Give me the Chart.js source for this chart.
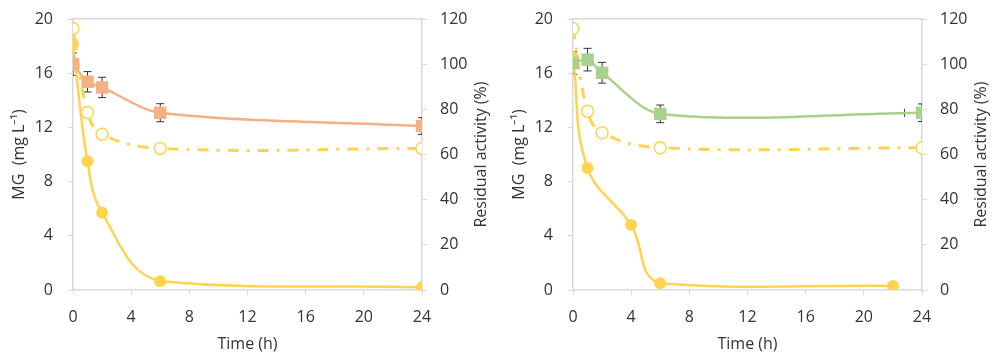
<!DOCTYPE html>
<html>
<head>
<meta charset="utf-8">
<script src="https://cdn.jsdelivr.net/npm/chart.js@4/dist/chart.umd.min.js"></script>
<style>
  body { margin: 0; background: #fff; }
  #wrap { position: relative; width: 992px; height: 354px; }
  .panel { position: absolute; top: 0; height: 354px; }
</style>
</head>
<body>
<div id="wrap">
  <div class="panel" style="left:0;width:500px"><canvas id="leftChart"></canvas></div>
  <div class="panel" style="left:500px;width:492px"><canvas id="rightChart"></canvas></div>
</div>
<script>
// tick labels
const timeTicks = [0, 4, 8, 12, 16, 20, 24];
const mgTicks = [0, 4, 8, 12, 16, 20];
const activityTicks = [0, 20, 40, 60, 80, 100, 120];

// left panel
const leftTime = [0, 1, 2, 6, 24];
const leftMG = [18.2, 9.5, 5.7, 0.65, 0.2];
const leftControl = [19.3, 13.1, 11.5, 10.45, 10.45];
const leftActivity = [100, 92.2, 89.7, 78.5, 72.6];
const leftActivityErr = [5, 4.5, 4.5, 4, 3.7];

// right panel
const rightTime = [0, 1, 2, 6, 24];
const rightMGTime = [0, 1, 4, 6, 22];
const rightMG = [17.2, 9.0, 4.8, 0.5, 0.3];
const rightControl = [19.3, 13.2, 11.6, 10.5, 10.5];
const rightActivity = [100.5, 102, 96.2, 78, 78.5];
const rightActivityErr = [5, 5, 4.6, 3.9, 3.9];
const rightActivityErrX = [0, 0, 0, 0, 1.2];

const YELLOW = "#FFD34E";
const ORANGE = "#F4B183";
const GREEN = "#A9D18E";
const AXIS = "#D9D9D9";
const TEXT = "#333333";
const FONT = "'Open Sans'";

Chart.defaults.font.family = FONT;
Chart.defaults.color = TEXT;

const pts = (xs, ys) => xs.map((x, i) => ({ x: x, y: ys[i] }));

// error bars drawn under the markers
const errorBars = {
  id: "errorBars",
  beforeDatasetsDraw(chart) {
    const ctx = chart.ctx;
    const area = chart.chartArea;
    ctx.save();
    ctx.beginPath();
    ctx.rect(area.left, area.top, area.right - area.left, area.bottom - area.top);
    ctx.clip();
    ctx.strokeStyle = "#333";
    ctx.lineWidth = 1;
    chart.data.datasets.forEach((ds) => {
      if (!ds.errY && !ds.errX) return;
      const xs = chart.scales[ds.xAxisID || "x"];
      const ys = chart.scales[ds.yAxisID];
      ds.data.forEach((p, i) => {
        const px = xs.getPixelForValue(p.x);
        const py = ys.getPixelForValue(p.y);
        const cap = 4;
        if (ds.errY && ds.errY[i]) {
          const t = ys.getPixelForValue(p.y + ds.errY[i]);
          const b = ys.getPixelForValue(p.y - ds.errY[i]);
          ctx.beginPath();
          ctx.moveTo(px, t); ctx.lineTo(px, b);
          ctx.moveTo(px - cap, t); ctx.lineTo(px + cap, t);
          ctx.moveTo(px - cap, b); ctx.lineTo(px + cap, b);
          ctx.stroke();
        }
        if (ds.errX && ds.errX[i]) {
          const l = xs.getPixelForValue(p.x - ds.errX[i]);
          const r = xs.getPixelForValue(p.x + ds.errX[i]);
          ctx.beginPath();
          ctx.moveTo(l, py); ctx.lineTo(r, py);
          ctx.moveTo(l, py - cap); ctx.lineTo(l, py + cap);
          ctx.moveTo(r, py - cap); ctx.lineTo(r, py + cap);
          ctx.stroke();
        }
      });
    });
    ctx.restore();
  }
};

// right axis title reads bottom-to-top, like the left one
const rightTitle = {
  id: "rightTitle",
  afterDraw(chart, args, opts) {
    const s = chart.scales.y1;
    const ctx = chart.ctx;
    ctx.save();
    ctx.translate(s.right - opts.offset, (s.top + s.bottom) / 2);
    ctx.rotate(-Math.PI / 2);
    ctx.font = "16px " + FONT;
    ctx.fillStyle = TEXT;
    ctx.textAlign = "center";
    ctx.textBaseline = "middle";
    ctx.fillText(opts.text, 0, 0);
    ctx.restore();
  }
};

function tickList(values) {
  return (scale) => { scale.ticks = values.map(v => ({ value: v })); };
}

function makePanel(id, p) {
  new Chart(document.getElementById(id), {
    type: "line",
    data: {
      datasets: [
        {
          label: "Residual activity",
          data: pts(p.time, p.activity),
          errY: p.activityErr,
          errX: p.activityErrX,
          yAxisID: "y1",
          borderColor: p.color,
          backgroundColor: p.color,
          borderWidth: 2.5,
          pointStyle: "rect",
          pointRadius: 8.8,
          pointBorderWidth: 0,
          tension: 0.3
        },
        {
          label: "MG",
          data: pts(p.mgTime, p.mg),
          yAxisID: "y",
          borderColor: YELLOW,
          backgroundColor: YELLOW,
          borderWidth: 2.5,
          pointRadius: 6,
          pointBorderWidth: 0,
          tension: 0.4
        },
        {
          label: "MG control",
          data: pts(p.time, p.control),
          yAxisID: "y",
          borderColor: YELLOW,
          backgroundColor: "#fff",
          borderWidth: 3,
          borderDash: [11, 8, 3, 8],
          pointRadius: 6,
          pointBorderWidth: 1.5,
          tension: 0.4
        }
      ]
    },
    options: {
      responsive: true,
      maintainAspectRatio: false,
      animation: false,
      layout: { padding: { top: 19, left: 0, right: 0, bottom: 0 } },
      plugins: {
        legend: { display: false },
        tooltip: { enabled: false },
        rightTitle: { text: "Residual activity (%)", offset: p.rightTitleOffset }
      },
      scales: {
        x: {
          type: "linear", position: "bottom", min: 0, max: 24,
          afterBuildTicks: tickList(timeTicks),
          afterFit: (s) => { s.height = 64; },
          grid: { drawOnChartArea: false, color: AXIS, tickLength: 5 },
          border: { color: AXIS, width: 1.5 },
          ticks: { font: { size: 16 }, padding: 13, maxRotation: 0 },
          title: { display: true, text: "Time (h)", font: { size: 16 }, padding: { top: 0, bottom: 0 } }
        },
        xTop: {
          type: "linear", position: "top", min: 0, max: 24,
          afterFit: (s) => { s.height = 0; },
          grid: { display: false },
          border: { color: AXIS, width: 1.5 },
          ticks: { display: false }
        },
        y: {
          position: "left", min: 0, max: 20,
          afterBuildTicks: tickList(mgTicks),
          afterFit: (s) => { s.width = 73; s.paddingTop = 0; s.paddingBottom = 0; },
          grid: { drawOnChartArea: false, color: AXIS, tickLength: 5 },
          border: { color: AXIS, width: 1.5 },
          ticks: { font: { size: 16 }, padding: 15 },
          title: { display: true, text: "MG  (mg L\u207B\u00B9)", font: { size: 16 }, padding: { top: 10 } }
        },
        y1: {
          position: "right", min: 0, max: 120,
          afterBuildTicks: tickList(activityTicks),
          afterFit: (s) => { s.width = p.rightWidth; s.paddingTop = 0; s.paddingBottom = 0; },
          grid: { drawOnChartArea: false, color: AXIS, tickLength: 5 },
          border: { color: AXIS, width: 1.5 },
          ticks: { font: { size: 16 }, padding: 13 }
        }
      }
    },
    plugins: [errorBars, rightTitle]
  });
}

makePanel("leftChart", {
  time: leftTime, mgTime: leftTime, mg: leftMG, control: leftControl,
  activity: leftActivity, activityErr: leftActivityErr, activityErrX: null,
  color: ORANGE, rightWidth: 78, rightTitleOffset: 18.3
});

makePanel("rightChart", {
  time: rightTime, mgTime: rightMGTime, mg: rightMG, control: rightControl,
  activity: rightActivity, activityErr: rightActivityErr, activityErrX: rightActivityErrX,
  color: GREEN, rightWidth: 70, rightTitleOffset: 10.3
});
</script>
</body>
</html>
